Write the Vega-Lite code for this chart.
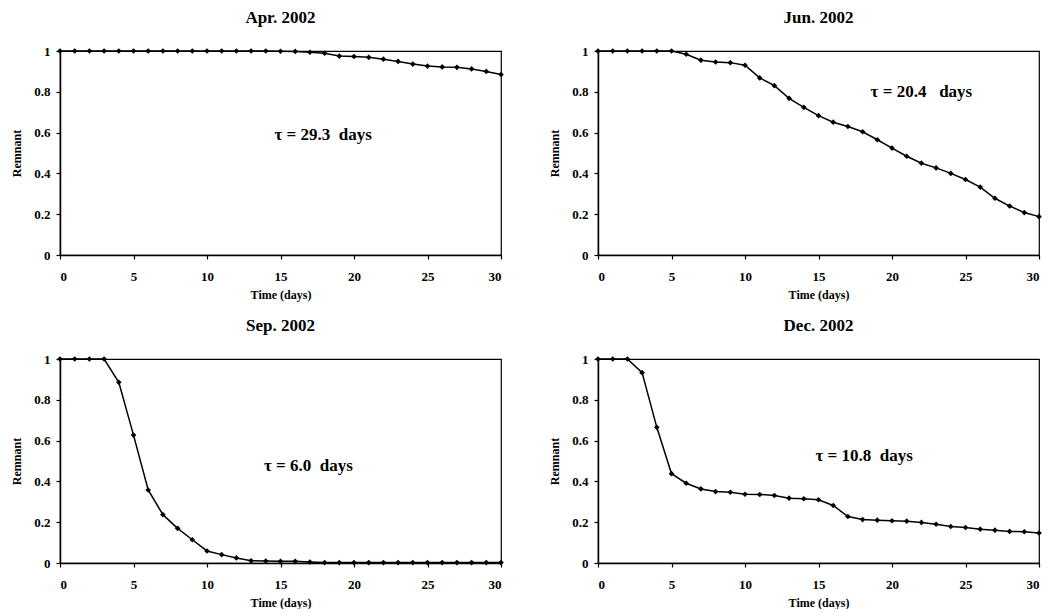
{
  "$schema": "https://vega.github.io/schema/vega-lite/v6.json",
  "padding": {"left": 10, "top": 8, "right": 0, "bottom": 0},
  "background": "white",
  "bounds": "flush",
  "columns": 2,
  "spacing": {"row": 104, "column": 97},
  "datasets": {
    "apr": [
      {"t": 0, "r": 1}, {"t": 1, "r": 1}, {"t": 2, "r": 1}, {"t": 3, "r": 1}, {"t": 4, "r": 1},
      {"t": 5, "r": 1}, {"t": 6, "r": 1}, {"t": 7, "r": 1}, {"t": 8, "r": 1}, {"t": 9, "r": 1},
      {"t": 10, "r": 1}, {"t": 11, "r": 1}, {"t": 12, "r": 1}, {"t": 13, "r": 1}, {"t": 14, "r": 1},
      {"t": 15, "r": 0.999}, {"t": 16, "r": 0.998}, {"t": 17, "r": 0.994}, {"t": 18, "r": 0.989}, {"t": 19, "r": 0.975},
      {"t": 20, "r": 0.973}, {"t": 21, "r": 0.969}, {"t": 22, "r": 0.96}, {"t": 23, "r": 0.949}, {"t": 24, "r": 0.936},
      {"t": 25, "r": 0.926}, {"t": 26, "r": 0.922}, {"t": 27, "r": 0.92}, {"t": 28, "r": 0.912}, {"t": 29, "r": 0.9},
      {"t": 30, "r": 0.885}
    ],
    "jun": [
      {"t": 0, "r": 1}, {"t": 1, "r": 1}, {"t": 2, "r": 1}, {"t": 3, "r": 1}, {"t": 4, "r": 1},
      {"t": 5, "r": 1}, {"t": 6, "r": 0.984}, {"t": 7, "r": 0.955}, {"t": 8, "r": 0.946}, {"t": 9, "r": 0.943},
      {"t": 10, "r": 0.93}, {"t": 11, "r": 0.868}, {"t": 12, "r": 0.83}, {"t": 13, "r": 0.768}, {"t": 14, "r": 0.724},
      {"t": 15, "r": 0.683}, {"t": 16, "r": 0.651}, {"t": 17, "r": 0.63}, {"t": 18, "r": 0.604}, {"t": 19, "r": 0.565},
      {"t": 20, "r": 0.524}, {"t": 21, "r": 0.484}, {"t": 22, "r": 0.45}, {"t": 23, "r": 0.427}, {"t": 24, "r": 0.4},
      {"t": 25, "r": 0.37}, {"t": 26, "r": 0.333}, {"t": 27, "r": 0.278}, {"t": 28, "r": 0.24}, {"t": 29, "r": 0.208},
      {"t": 30, "r": 0.188}
    ],
    "sep": [
      {"t": 0, "r": 1}, {"t": 1, "r": 1}, {"t": 2, "r": 1}, {"t": 3, "r": 1}, {"t": 4, "r": 0.886},
      {"t": 5, "r": 0.627}, {"t": 6, "r": 0.358}, {"t": 7, "r": 0.237}, {"t": 8, "r": 0.17}, {"t": 9, "r": 0.114},
      {"t": 10, "r": 0.059}, {"t": 11, "r": 0.041}, {"t": 12, "r": 0.025}, {"t": 13, "r": 0.011}, {"t": 14, "r": 0.01},
      {"t": 15, "r": 0.008}, {"t": 16, "r": 0.008}, {"t": 17, "r": 0.005}, {"t": 18, "r": 0.002}, {"t": 19, "r": 0.002},
      {"t": 20, "r": 0.002}, {"t": 21, "r": 0.002}, {"t": 22, "r": 0.002}, {"t": 23, "r": 0.002}, {"t": 24, "r": 0.002},
      {"t": 25, "r": 0.002}, {"t": 26, "r": 0.002}, {"t": 27, "r": 0.002}, {"t": 28, "r": 0.002}, {"t": 29, "r": 0.002},
      {"t": 30, "r": 0.002}
    ],
    "dec": [
      {"t": 0, "r": 1}, {"t": 1, "r": 1}, {"t": 2, "r": 1}, {"t": 3, "r": 0.933}, {"t": 4, "r": 0.665},
      {"t": 5, "r": 0.438}, {"t": 6, "r": 0.391}, {"t": 7, "r": 0.363}, {"t": 8, "r": 0.35}, {"t": 9, "r": 0.347},
      {"t": 10, "r": 0.337}, {"t": 11, "r": 0.336}, {"t": 12, "r": 0.331}, {"t": 13, "r": 0.318}, {"t": 14, "r": 0.315},
      {"t": 15, "r": 0.31}, {"t": 16, "r": 0.282}, {"t": 17, "r": 0.228}, {"t": 18, "r": 0.213}, {"t": 19, "r": 0.21},
      {"t": 20, "r": 0.207}, {"t": 21, "r": 0.205}, {"t": 22, "r": 0.199}, {"t": 23, "r": 0.19}, {"t": 24, "r": 0.179},
      {"t": 25, "r": 0.174}, {"t": 26, "r": 0.166}, {"t": 27, "r": 0.161}, {"t": 28, "r": 0.155}, {"t": 29, "r": 0.153},
      {"t": 30, "r": 0.147}
    ],
    "notes": [
      {"panel": "apr", "t": 17.9, "r": 0.59, "label": "τ = 29.3\u00a0\u00a0days"},
      {"panel": "jun", "t": 22.0, "r": 0.8, "label": "τ = 20.4\u00a0\u00a0\u00a0days"},
      {"panel": "sep", "t": 16.9, "r": 0.474, "label": "τ = 6.0\u00a0\u00a0days"},
      {"panel": "dec", "t": 18.1, "r": 0.524, "label": "τ = 10.8\u00a0\u00a0days"}
    ]
  },
  "concat": [
    {
      "title": "Apr. 2002",
      "width": 441, "height": 204,
      "encoding": {
        "x": {"field": "t", "type": "quantitative", "scale": {"domain": [0, 30], "nice": false}, "axis": {"values": [0, 5, 10, 15, 20, 25, 30], "format": "d", "title": "Time (days)"}},
        "y": {"field": "r", "type": "quantitative", "scale": {"domain": [0, 1], "nice": false}, "axis": {"values": [0, 0.2, 0.4, 0.6, 0.8, 1], "format": "~g", "title": "Remnant"}}
      },
      "layer": [
        {"data": {"name": "apr"}, "mark": {"type": "line", "color": "black", "strokeWidth": 1.5}},
        {"data": {"name": "apr"}, "mark": {"type": "point", "shape": "diamond", "filled": true, "size": 32, "color": "black", "opacity": 1}},
        {"data": {"name": "notes"}, "transform": [{"filter": "datum.panel === 'apr'"}],
         "mark": {"type": "text", "font": "Liberation Serif", "fontWeight": "bold", "fontSize": 17, "color": "black"},
         "encoding": {"text": {"field": "label"}}}
      ]
    },
    {
      "title": "Jun. 2002",
      "width": 441, "height": 204,
      "encoding": {
        "x": {"field": "t", "type": "quantitative", "scale": {"domain": [0, 30], "nice": false}, "axis": {"values": [0, 5, 10, 15, 20, 25, 30], "format": "d", "title": "Time (days)"}},
        "y": {"field": "r", "type": "quantitative", "scale": {"domain": [0, 1], "nice": false}, "axis": {"values": [0, 0.2, 0.4, 0.6, 0.8, 1], "format": "~g", "title": "Remnant"}}
      },
      "layer": [
        {"data": {"name": "jun"}, "mark": {"type": "line", "color": "black", "strokeWidth": 1.5}},
        {"data": {"name": "jun"}, "mark": {"type": "point", "shape": "diamond", "filled": true, "size": 32, "color": "black", "opacity": 1}},
        {"data": {"name": "notes"}, "transform": [{"filter": "datum.panel === 'jun'"}],
         "mark": {"type": "text", "font": "Liberation Serif", "fontWeight": "bold", "fontSize": 17, "color": "black"},
         "encoding": {"text": {"field": "label"}}}
      ]
    },
    {
      "title": "Sep. 2002",
      "width": 441, "height": 204,
      "encoding": {
        "x": {"field": "t", "type": "quantitative", "scale": {"domain": [0, 30], "nice": false}, "axis": {"values": [0, 5, 10, 15, 20, 25, 30], "format": "d", "title": "Time (days)"}},
        "y": {"field": "r", "type": "quantitative", "scale": {"domain": [0, 1], "nice": false}, "axis": {"values": [0, 0.2, 0.4, 0.6, 0.8, 1], "format": "~g", "title": "Remnant"}}
      },
      "layer": [
        {"data": {"name": "sep"}, "mark": {"type": "line", "color": "black", "strokeWidth": 1.5}},
        {"data": {"name": "sep"}, "mark": {"type": "point", "shape": "diamond", "filled": true, "size": 32, "color": "black", "opacity": 1}},
        {"data": {"name": "notes"}, "transform": [{"filter": "datum.panel === 'sep'"}],
         "mark": {"type": "text", "font": "Liberation Serif", "fontWeight": "bold", "fontSize": 17, "color": "black"},
         "encoding": {"text": {"field": "label"}}}
      ]
    },
    {
      "title": "Dec. 2002",
      "width": 441, "height": 204,
      "encoding": {
        "x": {"field": "t", "type": "quantitative", "scale": {"domain": [0, 30], "nice": false}, "axis": {"values": [0, 5, 10, 15, 20, 25, 30], "format": "d", "title": "Time (days)"}},
        "y": {"field": "r", "type": "quantitative", "scale": {"domain": [0, 1], "nice": false}, "axis": {"values": [0, 0.2, 0.4, 0.6, 0.8, 1], "format": "~g", "title": "Remnant"}}
      },
      "layer": [
        {"data": {"name": "dec"}, "mark": {"type": "line", "color": "black", "strokeWidth": 1.5}},
        {"data": {"name": "dec"}, "mark": {"type": "point", "shape": "diamond", "filled": true, "size": 32, "color": "black", "opacity": 1}},
        {"data": {"name": "notes"}, "transform": [{"filter": "datum.panel === 'dec'"}],
         "mark": {"type": "text", "font": "Liberation Serif", "fontWeight": "bold", "fontSize": 17, "color": "black"},
         "encoding": {"text": {"field": "label"}}}
      ]
    }
  ],
  "config": {
    "font": "Liberation Serif",
    "view": {"stroke": "black", "strokeWidth": 1.2},
    "axis": {
      "grid": false, "domainColor": "black", "domainWidth": 1.5, "tickColor": "black", "tickSize": 4, "tickWidth": 1.2,
      "labelFont": "Liberation Serif", "labelFontWeight": "bold", "labelFontSize": 13, "labelColor": "black",
      "titleFont": "Liberation Serif", "titleFontWeight": "bold", "titleFontSize": 12, "titleColor": "black"
    },
    "axisX": {"labelPadding": 11, "titlePadding": 6},
    "axisY": {"labelPadding": 6, "titlePadding": 10},
    "title": {"font": "Liberation Serif", "fontWeight": "bold", "fontSize": 17, "color": "black", "offset": 18, "anchor": "middle"}
  }
}
